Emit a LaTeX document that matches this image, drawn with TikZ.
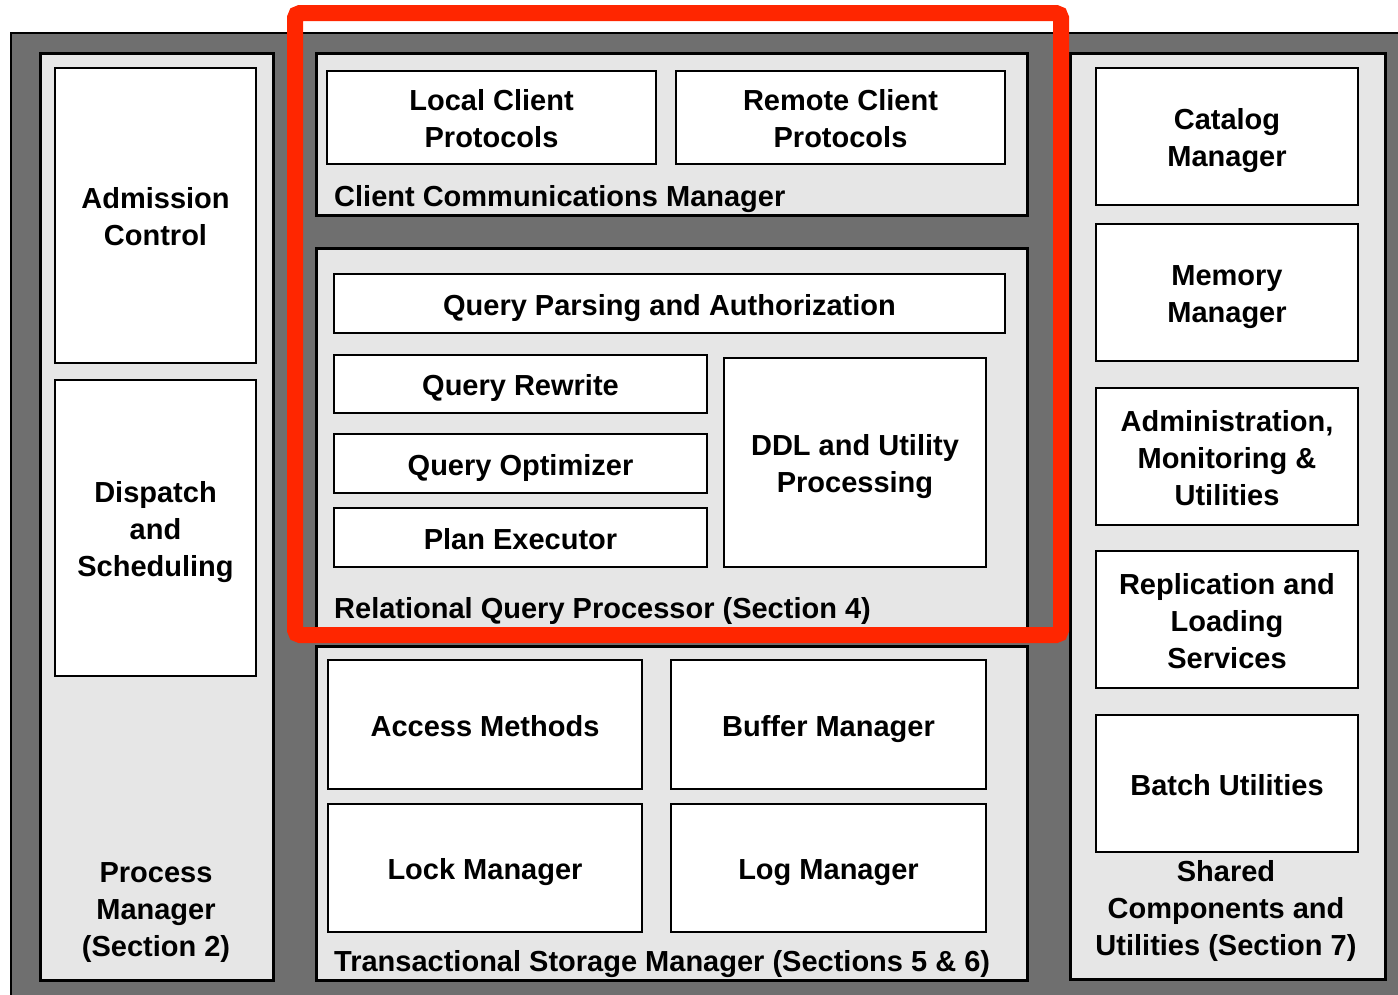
\documentclass[tikz,border=0pt]{standalone}
\usepackage{fontspec}
\setmainfont{Liberation Sans}
\definecolor{frame}{RGB}{111,111,111}
\definecolor{panelgray}{RGB}{230,230,230}
\definecolor{hilite}{RGB}{255,38,0}
\newcommand\labelfont{\fontsize{29}{37}\selectfont\bfseries}
% fixed line strut so every label centres the same way
\newcommand\st{\rule[-7pt]{0pt}{37pt}}
\tikzset{
  sized/.style 2 args={minimum width=#1, minimum height=#2},
  panel/.style={draw=black, line width=3pt, fill=panelgray, inner sep=0pt},
  unit/.style={draw=black, line width=2.5pt, fill=white, inner sep=0pt,
    align=center, font=\labelfont},
  caption/.style={inner sep=0pt, align=center, font=\labelfont},
}
\begin{document}
\begin{tikzpicture}[x=1pt, y=-1pt]
\useasboundingbox (0,0) rectangle (1398,994);
\clip (0,0) rectangle (1398,994);

% outer frame
\path[draw=black, line width=2pt, fill=frame] (11,33) rectangle (1420,1020);

% process manager column
\node[panel, sized={233}{927}] (pm) at (156.5,516.5) {};
\node[unit, sized={201}{295}] (adm) at (155.5,215.5) {\st Admission\\\st Control};
\node[unit, sized={201}{296}] (disp) at (155.5,528) {\st Dispatch\\\st and\\\st Scheduling};
\node[caption] (pmlabel) at (156,913) {Process\\Manager\\(Section 2)};

% client communications manager
\node[panel, sized={711}{162}] (ccm) at (671.5,134) {};
\node[unit, sized={329}{93}] (local) at (491.5,117.5) {\st Local Client\\\st Protocols};
\node[unit, sized={329}{93}] (remote) at (840.5,117.5) {\st Remote Client\\\st Protocols};
\node[caption, anchor=west] (ccmlabel) at (334,199) {Client Communications Manager};

% relational query processor
\node[panel, sized={711}{380}] (rqp) at (671.5,438) {};
\node[unit, sized={671}{59}] (parse) at (669.5,303.5) {\st Query Parsing and Authorization};
\node[unit, sized={373}{58}] (rewrite) at (520.5,384) {\st Query Rewrite};
\node[unit, sized={373}{59}] (opt) at (520.5,463.5) {\st Query Optimizer};
\node[unit, sized={373}{59}] (exec) at (520.5,537.5) {\st Plan Executor};
\node[unit, sized={262}{209}] (ddl) at (855,462.5) {\st DDL and Utility\\\st Processing};
\node[caption, anchor=west] (rqplabel) at (334,611) {Relational Query Processor (Section 4)};

% transactional storage manager
\node[panel, sized={711}{334}] (tsm) at (671.5,813) {};
\node[unit, sized={314}{129}] (access) at (485,724.5) {\st Access Methods};
\node[unit, sized={315}{129}] (buffer) at (828.5,724.5) {\st Buffer Manager};
\node[unit, sized={314}{128}] (lock) at (485,868) {\st Lock Manager};
\node[unit, sized={315}{128}] (log) at (828.5,868) {\st Log Manager};
\node[caption, anchor=west] (tsmlabel) at (334,964) {Transactional Storage Manager (Sections 5 \& 6)};

% shared components column
\node[panel, sized={315}{926}] (shared) at (1227.5,516) {};
\node[unit, sized={262}{137}] (catalog) at (1227,136.5) {\st Catalog\\\st Manager};
\node[unit, sized={262}{137}] (memory) at (1227,292.5) {\st Memory\\\st Manager};
\node[unit, sized={262}{137}] (admin) at (1227,456.5) {\st Administration,\\\st Monitoring \&\\\st Utilities};
\node[unit, sized={262}{137}] (repl) at (1227,619.5) {\st Replication and\\\st Loading\\\st Services};
\node[unit, sized={262}{137}] (batch) at (1227,783.5) {\st Batch Utilities};
\node[caption] (sharedlabel) at (1226,911) {Shared\\Components and\\Utilities (Section 7)};

% highlight around the query-processing part
\draw[hilite, line width=16pt, rounded corners=5pt] (295,13) rectangle (1061,635);
\end{tikzpicture}
\end{document}
